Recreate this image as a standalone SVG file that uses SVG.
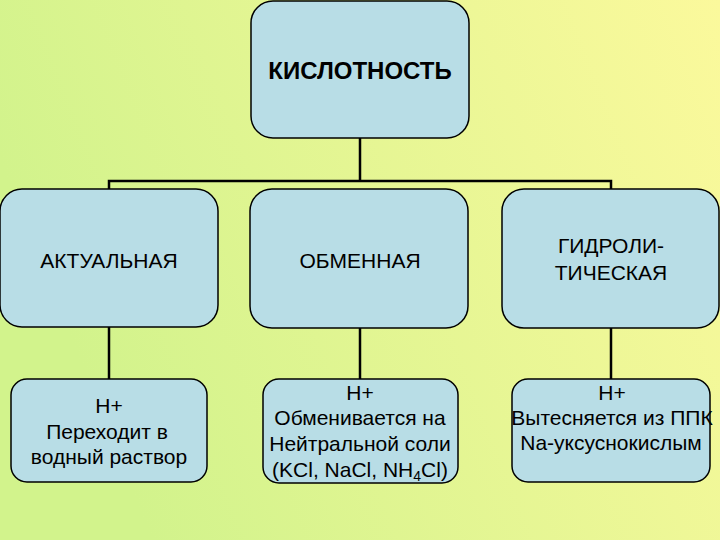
<svg xmlns="http://www.w3.org/2000/svg" width="720" height="540" viewBox="0 0 720 540">
<defs>
<linearGradient id="bg" x1="0" y1="0.3" x2="1" y2="0">
<stop offset="0" stop-color="#d2f38c"/>
<stop offset="1" stop-color="#fbf99c"/>
</linearGradient>
<style>
.box{fill:#b8dde6;stroke:#000;stroke-width:1.5}
.t{font-family:"Liberation Sans",Arial,sans-serif;font-size:21px;fill:#000;text-anchor:middle}
.h{font-family:"Liberation Sans",Arial,sans-serif;font-size:24px;font-weight:bold;fill:#000;text-anchor:middle}
.c{fill:none;stroke:#000;stroke-width:2.5}
</style>
</defs>
<rect width="720" height="540" fill="url(#bg)"/>
<g id="connectors">
<path class="c" d="M360,138 V181 M109,189 V181 H611 V189"/>
<path class="c" d="M109,327 V379"/>
<path class="c" d="M360,328 V379"/>
<path class="c" d="M611,328 V379"/>
</g>
<g id="n-kislotnost">
<rect class="box" x="251" y="1" width="218" height="137" rx="22"/>
<text class="h" x="360" y="79">КИСЛОТНОСТЬ</text>
</g>
<g id="n-aktualnaya">
<rect class="box" x="0" y="189" width="218" height="138" rx="22"/>
<text class="t" x="109" y="268">АКТУАЛЬНАЯ</text>
</g>
<g id="n-obmennaya">
<rect class="box" x="250" y="189" width="218" height="139" rx="22"/>
<text class="t" x="360" y="268">ОБМЕННАЯ</text>
</g>
<g id="n-gidrolit">
<rect class="box" x="502" y="189" width="217" height="139" rx="22"/>
<text class="t" x="611" y="253">ГИДРОЛИ-</text>
<text class="t" x="611" y="280">ТИЧЕСКАЯ</text>
</g>
<g id="n-h-akt">
<rect class="box" x="11" y="379" width="196" height="103" rx="16"/>
<text class="t" x="109" y="413">Н+</text>
<text class="t" x="107" y="439">Переходит в</text>
<text class="t" x="109" y="464">водный раствор</text>
</g>
<g id="n-h-obm">
<rect class="box" x="263" y="379" width="195" height="104" rx="16"/>
<text class="t" x="360" y="400">Н+</text>
<text class="t" x="360" y="425">Обменивается на</text>
<text class="t" x="360" y="451">Нейтральной соли</text>
<text class="t" x="360" y="477">(KCl, NaCl, NH<tspan font-size="14" dy="4">4</tspan><tspan dy="-4">Cl)</tspan></text>
</g>
<g id="n-h-gidr">
<rect class="box" x="512" y="379" width="198" height="103" rx="16"/>
<text class="t" x="612" y="400">Н+</text>
<text class="t" x="612" y="425">Вытесняется из ППК</text>
<text class="t" x="611" y="450">Na-уксуснокислым</text>
</g>
</svg>
